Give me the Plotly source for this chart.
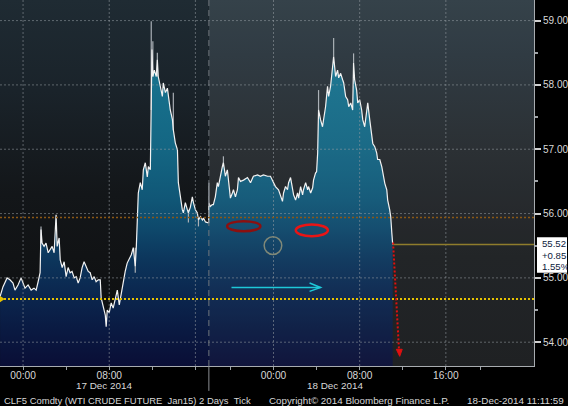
import plotly.graph_objects as go

# ---------------- data ----------------
DAY16, DAY17, DAY18 = "2014-12-16", "2014-12-17", "2014-12-18"

times_16 = ["21:52", "22:08", "22:31", "22:47", "23:04", "23:15", "23:32", "23:49"]
prices_16 = [54.71, 54.86, 55.00, 54.97, 54.92, 54.81, 54.89, 55.00]

times_17 = ["00:00", "00:11", "00:28", "00:45", "01:01", "01:13", "01:24", "01:35", "01:40", "01:46",
            "01:57", "02:08", "02:20", "02:31", "02:42", "02:53", "03:04", "03:10", "03:21", "03:27",
            "03:38", "03:49", "04:00", "04:11", "04:22", "04:33", "04:45", "04:56", "05:07", "05:18",
            "05:29", "05:40", "05:52", "06:03", "06:14", "06:25", "06:36", "06:47", "06:59", "07:10",
            "07:15", "07:26", "07:38", "07:43", "07:49", "08:00", "08:11", "08:22", "08:33", "08:45",
            "08:56", "09:07", "09:18", "09:29", "09:40", "09:52", "10:03", "10:14", "10:25", "10:31",
            "10:36", "10:42", "10:53", "11:04", "11:10", "11:21", "11:32", "11:38", "11:49", "11:54",
            "11:58", "12:03", "12:11", "12:22", "12:28", "12:33", "12:45", "12:56", "13:01", "13:13",
            "13:24", "13:29", "13:40", "13:52", "13:57", "14:08", "14:20", "14:25", "14:36", "14:47",
            "14:53", "15:04", "15:15", "15:21", "15:32", "15:43", "15:49", "16:00", "16:11", "16:17",
            "16:28", "16:39", "16:45", "16:56", "17:07", "17:14",
            "18:00", "18:08", "18:19", "18:25", "18:36", "18:47", "18:53", "19:04", "19:15", "19:21",
            "19:32", "19:43", "19:49", "20:00", "20:11", "20:17", "20:28", "20:39", "20:45", "20:56",
            "21:13", "21:35", "21:52", "22:08", "22:31", "22:47", "23:04", "23:27", "23:43"]
prices_17 = [54.92, 54.84, 54.89, 54.81, 54.84, 54.81, 54.94, 55.08, 55.75, 55.54,
             55.49, 55.54, 55.39, 55.44, 55.49, 55.39, 55.98, 55.49, 55.62, 55.28,
             55.16, 55.25, 55.02, 55.16, 55.08, 55.10, 55.00, 55.02, 54.92, 55.00,
             55.16, 55.25, 55.18, 55.10, 55.08, 54.97, 55.02, 54.94, 54.97, 54.97,
             54.69, 54.55, 54.42, 54.24, 54.50, 54.46, 54.61, 54.53, 54.69, 54.81,
             54.58, 54.77, 54.92, 55.10, 55.23, 55.31, 55.36, 55.47, 55.18, 55.49,
             56.06, 56.32, 56.48, 56.37, 56.68, 56.79, 56.57, 56.73, 56.68, 57.61,
             58.55, 58.13, 58.23, 58.13, 58.39, 58.13, 57.98, 57.82, 58.03, 57.88,
             57.95, 57.82, 57.61, 57.46, 57.30, 57.10, 56.99, 56.48, 56.26, 56.06,
             56.01, 56.17, 56.06, 56.01, 56.10, 56.26, 56.17, 56.06, 56.01, 55.90,
             55.95, 55.90, 55.93, 55.87, 55.86, 55.86,
             56.17, 56.11, 56.14, 56.14, 56.26, 56.48, 56.42, 56.60, 56.73, 56.79,
             56.58, 56.68, 56.52, 56.24, 56.32, 56.37, 56.26, 56.37, 56.56, 56.50,
             56.52, 56.56, 56.48, 56.58, 56.60, 56.58, 56.60, 56.58, 56.58]

times_18 = ["00:00", "00:11", "00:28", "00:39", "00:50", "00:56", "01:07", "01:18", "01:24", "01:35",
            "01:46", "01:52", "02:03", "02:14", "02:20", "02:31", "02:42", "02:47", "02:59", "03:10",
            "03:15", "03:27", "03:38", "03:43", "03:54", "04:00", "04:06", "04:11", "04:22", "04:33",
            "04:39", "04:50", "05:01", "05:07", "05:18", "05:29", "05:35", "05:46", "05:57", "06:03",
            "06:14", "06:25", "06:31", "06:42", "06:53", "06:59", "07:10", "07:21", "07:26", "07:32",
            "07:43", "07:49", "08:00", "08:11", "08:17", "08:28", "08:39", "08:45", "08:56", "09:07",
            "09:13", "09:24", "09:35", "09:40", "09:52", "10:03", "10:08", "10:20", "10:31", "10:36",
            "10:47", "10:53", "10:59", "11:04"]
prices_18 = [56.48, 56.42, 56.37, 56.26, 56.19, 56.32, 56.42, 56.37, 56.48, 56.56,
             56.37, 56.29, 56.21, 56.32, 56.24, 56.42, 56.29, 56.37, 56.48, 56.37,
             56.42, 56.32, 56.40, 56.52, 56.63, 56.65, 56.94, 57.61, 57.46, 57.35,
             57.46, 57.66, 57.98, 57.82, 57.98, 58.34, 58.44, 58.13, 58.23, 58.11,
             58.18, 58.08, 58.03, 57.82, 57.77, 57.66, 57.72, 57.61, 58.34, 58.08,
             57.92, 57.72, 57.77, 57.61, 57.46, 57.35, 57.61, 57.72, 57.46, 57.25,
             57.09, 57.04, 56.94, 56.84, 56.84, 56.73, 56.63, 56.47, 56.37, 56.21,
             56.06, 55.95, 55.70, 55.52]

# tick spikes (time, low, high)
spike_times = ["2014-12-17 01:40", "2014-12-17 10:25", "2014-12-17 11:54", "2014-12-17 12:03",
               "2014-12-17 12:28", "2014-12-17 13:57", "2014-12-17 15:21", "2014-12-17 16:17",
               "2014-12-17 18:00", "2014-12-17 19:21", "2014-12-18 04:11", "2014-12-18 05:35",
               "2014-12-18 07:26"]
spike_lows = [55.54, 55.08, 57.61, 58.13, 58.13, 57.30, 55.86, 55.80, 56.17, 56.73, 57.61, 58.44, 58.34]
spike_highs = [55.80, 55.47, 58.99, 58.68, 58.50, 57.88, 56.06, 55.90, 56.48, 56.89, 57.92, 58.73, 58.49]

last_price = 55.52
net_change = "+0.85"
pct_change = "1.55%"
prev_close = 54.67
orange_level = 55.94

y_ticks = [54, 55, 56, 57, 58, 59]
y_minor = [54.5, 55.5, 56.5, 57.5, 58.5]
x_grid = ["2014-12-17 00:00", "2014-12-17 08:00", "2014-12-17 16:00",
          "2014-12-18 00:00", "2014-12-18 08:00", "2014-12-18 16:00"]
x_labels = ["00:00", "08:00", "", "00:00", "08:00", "16:00"]
x_minor = ["2014-12-17 04:00", "2014-12-17 12:00", "2014-12-17 20:00",
           "2014-12-18 04:00", "2014-12-18 12:00", "2014-12-18 20:00"]
day_labels = ["17 Dec 2014", "18 Dec 2014"]
day_label_pos = ["2014-12-17 07:32", "2014-12-18 05:43"]

X_START, X_END = "2014-12-16 21:51:36", "2014-12-19 00:56"
Y_MIN, Y_MAX = 53.63, 59.32
SESSION_START = "2014-12-17 18:00"

times = ([f"{DAY16} {t}" for t in times_16] + [f"{DAY17} {t}" for t in times_17]
         + [f"{DAY18} {t}" for t in times_18])
prices = prices_16 + prices_17 + prices_18

FONT = "Liberation Sans, Arial, sans-serif"
TXT = "#d8d8d8"

fig = go.Figure()


def bg_rect(x0, x1, scale):
    return go.Scatter(
        x=[x0, x1, x1, x0, x0], y=[Y_MIN, Y_MIN, Y_MAX, Y_MAX, Y_MIN],
        mode="lines", fill="toself", line=dict(width=0), hoverinfo="skip",
        fillgradient=dict(type="vertical", start=Y_MIN, stop=Y_MAX, colorscale=scale))


# background gradients: previous session (darker) and current session (lighter)
fig.add_trace(bg_rect(X_START, SESSION_START,
                      [[0, "#0c0d0f"], [0.3, "#111315"], [0.47, "#131619"], [0.75, "#1a232a"], [1, "#1f2b33"]]))
fig.add_trace(bg_rect(SESSION_START, X_END,
                      [[0, "#181a1c"], [0.3, "#1b1e21"], [0.59, "#252a2e"], [0.85, "#2a353d"], [1, "#2f3c45"]]))

# area under price
fig.add_trace(go.Scatter(
    x=times, y=prices, mode="lines", fill="tozeroy", line=dict(width=0), hoverinfo="skip",
    fillgradient=dict(type="vertical", start=Y_MIN, stop=Y_MAX,
                      colorscale=[[0, "#0a0e36"], [0.10, "#0a1a42"], [0.206, "#0b2850"],
                                  [0.293, "#0c365c"], [0.373, "#0e486b"], [0.452, "#105676"],
                                  [0.592, "#146683"], [0.768, "#17708c"], [1, "#1b7b96"]])))

# spikes
sx, sy = [], []
for t, lo, hi in zip(spike_times, spike_lows, spike_highs):
    sx += [t, t, None]
    sy += [lo, hi, None]
fig.add_trace(go.Scatter(x=sx, y=sy, mode="lines", line=dict(color="#a9afb5", width=1.2), hoverinfo="skip"))

# price line
fig.add_trace(go.Scatter(x=times, y=prices, mode="lines", line=dict(color="#f2f2f2", width=1.2), hoverinfo="skip"))

shapes = []
# faint lift of current session (also over the area)
shapes.append(dict(type="rect", xref="x", yref="y", x0=SESSION_START, x1=X_END, y0=Y_MIN, y1=Y_MAX,
                   fillcolor="rgba(255,255,255,0.03)", line=dict(width=0), layer="above"))
grid_line = dict(color="rgba(150,156,162,0.55)", width=1, dash="2px,2px")
for v in y_ticks:
    shapes.append(dict(type="line", xref="paper", yref="y", x0=0, x1=1, y0=v, y1=v, line=grid_line, layer="above"))
for t in x_grid:
    shapes.append(dict(type="line", xref="x", yref="paper", x0=t, x1=t, y0=0, y1=1, line=grid_line, layer="above"))
# session separator
shapes.append(dict(type="line", xref="x", yref="paper", x0=SESSION_START, x1=SESSION_START, y0=0, y1=1,
                   line=dict(color="#70767c", width=1, dash="6px,4px"), layer="above"))
shapes.append(dict(type="line", xref="x", yref="paper", x0=SESSION_START, x1=SESSION_START, y0=-0.068, y1=0,
                   line=dict(color="#8a8e92", width=1), layer="above"))
# reference levels
shapes.append(dict(type="line", xref="paper", yref="y", x0=0, x1=1, y0=orange_level, y1=orange_level,
                   line=dict(color="#8c5816", width=1.5, dash="2px,2px"), layer="above"))
shapes.append(dict(type="line", xref="paper", yref="y", x0=0, x1=1, y0=prev_close, y1=prev_close,
                   line=dict(color="#e6c200", width=2, dash="2px,2px"), layer="above"))
shapes.append(dict(type="path", xref="paper", yref="y",
                   path=f"M 0,{prev_close + 0.05} L 0.009,{prev_close} L 0,{prev_close - 0.05} Z",
                   fillcolor="#e6c200", line=dict(width=0), layer="above"))
shapes.append(dict(type="line", xref="x", yref="y", x0=times[-1], x1=X_END, y0=last_price, y1=last_price,
                   line=dict(color="#8f7d2c", width=1.5), layer="above"))
# hand drawn annotations
shapes.append(dict(type="circle", xref="x", yref="y", x0="2014-12-17 19:42", x1="2014-12-17 22:47",
                   y0=55.726, y1=55.882, line=dict(color="#8b1010", width=2.5), layer="above"))
shapes.append(dict(type="circle", xref="x", yref="y", x0="2014-12-18 02:04", x1="2014-12-18 05:03",
                   y0=55.648, y1=55.83, line=dict(color="#e81515", width=2.5), layer="above"))
shapes.append(dict(type="circle", xref="x", yref="y", x0="2014-12-17 23:08", x1="2014-12-18 00:46",
                   y0=55.364, y1=55.639, line=dict(color="#7f8878", width=1.5), layer="above"))
shapes.append(dict(type="line", xref="x", yref="y", x0="2014-12-17 20:06", x1="2014-12-18 04:22",
                   y0=54.85, y1=54.85, line=dict(color="#1ec8d8", width=1.5), layer="above"))
shapes.append(dict(type="path", xref="x", yref="y",
                   path="M 2014-12-18_03:21,54.92 L 2014-12-18_04:22,54.85 L 2014-12-18_03:21,54.79",
                   line=dict(color="#1ec8d8", width=1.5), layer="above"))
shapes.append(dict(type="line", xref="x", yref="y", x0="2014-12-18 11:06", x1="2014-12-18 11:40",
                   y0=55.55, y1=53.83, line=dict(color="#e01010", width=2, dash="2px,2px"), layer="above"))
shapes.append(dict(type="path", xref="x", yref="y",
                   path="M 2014-12-18_11:24,53.89 L 2014-12-18_11:57,53.89 L 2014-12-18_11:43,53.78 Z",
                   fillcolor="#e01010", line=dict(color="#e01010", width=1), layer="above"))
# last price box
shapes.append(dict(type="rect", xref="paper", yref="y", x0=1.0056, x1=1.0618, y0=55.08, y1=55.63,
                   fillcolor="#ffffff", line=dict(width=0), layer="above"))

annotations = []
for txt, yv in [(f"{last_price:.2f}", 55.527), (net_change, 55.348), (pct_change, 55.170)]:
    annotations.append(dict(text=txt, xref="paper", yref="y", x=1.0112, y=yv, xanchor="left", yanchor="middle",
                            showarrow=False, font=dict(family=FONT, size=9.6, color="#0c1a3c")))
for txt, xv in zip(day_labels, day_label_pos):
    annotations.append(dict(text=txt, xref="x", yref="paper", x=xv, y=-0.0546, xanchor="center",
                            yanchor="middle", showarrow=False, font=dict(family=FONT, size=9.9, color=TXT)))
annotations.append(dict(text="CLF5 Comdty (WTI CRUDE FUTURE\u00a0\u00a0Jan15) 2 Days\u00a0\u00a0Tick",
                        xref="paper", yref="paper", x=0.0037, y=-0.094, xanchor="left", yanchor="middle",
                        showarrow=False, font=dict(family=FONT, size=9.45, color=TXT)))
annotations.append(dict(text="Copyright\u00a9 2014 Bloomberg Finance L.P.", xref="paper", yref="paper",
                        x=266.5 / 534, y=-0.094, xanchor="left", yanchor="middle", showarrow=False,
                        font=dict(family=FONT, size=9.8, color=TXT)))
annotations.append(dict(text="18-Dec-2014 11:11:59", xref="paper", yref="paper", x=566 / 534, y=-0.094,
                        xanchor="right", yanchor="middle", showarrow=False,
                        font=dict(family=FONT, size=9.9, color=TXT)))

fig.update_layout(
    width=568, height=406, autosize=False,
    margin=dict(l=0, r=34, t=0, b=40),
    paper_bgcolor="#000000", plot_bgcolor="#000000",
    showlegend=False, hovermode=False,
    shapes=shapes, annotations=annotations,
    font=dict(family=FONT, size=10.2, color=TXT),
    xaxis=dict(type="date", range=[X_START, X_END],
               rangebreaks=[dict(bounds=[17.25, 18], pattern="hour")],
               tickmode="array", tickvals=x_grid, ticktext=x_labels,
               ticks="outside", ticklen=3, tickcolor="#9aa0a6", tickwidth=1, ticklabelstandoff=-3,
               minor=dict(tickmode="array", tickvals=x_minor, ticks="outside", ticklen=3, tickcolor="#9aa0a6"),
               showgrid=False, zeroline=False, showline=True, linecolor="#a8acb0", linewidth=1,
               tickfont=dict(family=FONT, size=10.2, color=TXT)),
    yaxis=dict(side="right", range=[Y_MIN, Y_MAX], tickmode="array", tickvals=y_ticks,
               ticktext=[f"{v:.2f}" for v in y_ticks],
               ticks="outside", ticklen=6, tickwidth=2, tickcolor="#d0d0d0",
               minor=dict(tickmode="array", tickvals=y_minor, ticks="outside", ticklen=3, tickcolor="#a0a4a8"),
               showgrid=False, zeroline=False, showline=True, linecolor="#a8acb0", linewidth=1,
               tickfont=dict(family=FONT, size=10, color=TXT)),
)

fig.write_html("out.html", config={"displayModeBar": False},
               post_script="document.body.style.margin='0';document.body.style.overflow='hidden';"
                           "document.documentElement.style.background='#000';")
